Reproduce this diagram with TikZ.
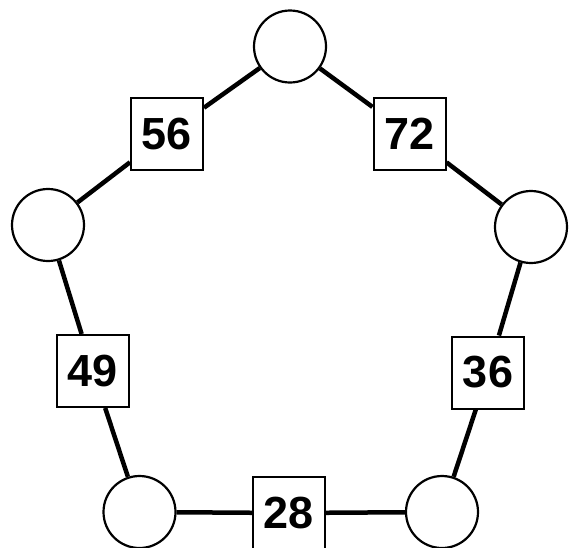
\documentclass[tikz,border=0pt]{standalone}
\usepackage{fontspec}
\setmainfont{Liberation Sans}
\tikzset{
  vert/.style={circle,draw,line width=2.2pt,fill=white,minimum size=72pt,inner sep=0pt},
  wbox/.style={rectangle,draw,line width=2pt,fill=white,minimum size=72pt,inner sep=0pt,font=\fontsize{45}{45}\selectfont\bfseries},
  wedge/.style={line width=4.5pt}
}
\begin{document}
\begin{tikzpicture}[x=1pt,y=-1pt]
\useasboundingbox (0,0) rectangle (580,547);
\clip (0,0) rectangle (580,547);
\node[vert] (t) at (290,46.5) {};
\node[vert] (l) at (48,225) {};
\node[vert] (r) at (531,227) {};
\node[vert] (bl) at (139.5,512) {};
\node[vert] (br) at (442,512) {};
\node[wbox] (w56) at (167,134) {56};
\node[wbox] (w72) at (409.5,134) {72};
\node[wbox] (w49) at (93,371) {49};
\node[wbox] (w36) at (488,372.5) {36};
\node[wbox] (w28) at (289,513) {28};
\draw[wedge] (t) -- (w56) -- (l);
\draw[wedge] (t) -- (w72) -- (r);
\draw[wedge] (l) -- (w49) -- (bl);
\draw[wedge] (r) -- (w36) -- (br);
\draw[wedge] (bl) -- (w28) -- (br);
\end{tikzpicture}
\end{document}
